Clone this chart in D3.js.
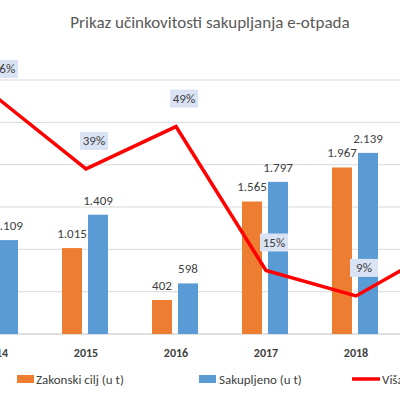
<!DOCTYPE html>
<html><head><meta charset="utf-8">
<script src="https://cdn.jsdelivr.net/npm/d3@7"></script>
<style>body{margin:0;background:#fff}</style>
</head><body><div id="chart"></div>
<script>
var years = ["2014", "2015", "2016", "2017", "2018", "2019"];
var target = [900, 1015, 402, 1565, 1967, 2300];      // Zakonski cilj (u t)
var collected = [1109, 1409, 598, 1797, 2139, 2700];  // Sakupljeno (u t)
var surplus = [56, 39, 49, 15, 9, 21];                // Višak (%)
var fmt = function(v) { return d3.format(",")(v).replace(/,/g, "."); };

var svg = d3.select("#chart").append("svg").attr("width", 400).attr("height", 400)
    .style("font-family", "Calibri, Carlito, 'Liberation Sans', sans-serif");

var plotTop = 80, plotBottom = 334;
var x = d3.scalePoint().domain(years).range([-4, 446]);
var y = d3.scaleLinear().domain([0, 3000]).range([plotBottom, plotTop]);
var y2 = d3.scaleLinear().domain([0, 60]).range([plotBottom, plotTop]);

svg.append("text").attr("x", 210).attr("y", 28).attr("text-anchor", "middle")
    .attr("font-size", 17).attr("fill", "#595959")
    .text("Prikaz učinkovitosti sakupljanja e-otpada");

// gridlines
svg.append("g").selectAll("line").data(y.ticks(6)).enter().append("line")
    .attr("x1", 0).attr("x2", 400)
    .attr("y1", function(d) { return y(d); }).attr("y2", function(d) { return y(d); })
    .attr("stroke", function(d) { return d == 0 ? "#bfbfbf" : "#d9d9d9"; });

// bars
var bw = 20;
[[target, "#ed7d31", -24], [collected, "#5b9bd5", 2]].forEach(function(s) {
  var g = svg.append("g");
  g.selectAll("rect").data(s[0]).enter().append("rect")
      .attr("x", function(d, i) { return x(years[i]) + s[2]; })
      .attr("y", function(d) { return y(d); })
      .attr("width", bw).attr("height", function(d) { return plotBottom - y(d); })
      .attr("fill", s[1]);
  g.selectAll("text").data(s[0]).enter().append("text")
      .attr("x", function(d, i) { return x(years[i]) + s[2] + bw / 2; })
      .attr("y", function(d) { return y(d) - 10; })
      .attr("text-anchor", "middle").attr("font-size", 13).attr("fill", "#404040")
      .text(fmt);
});

// line
var line = d3.line()
    .x(function(d, i) { return x(years[i]); })
    .y(function(d) { return y2(d); });
svg.append("path").datum(surplus).attr("d", line)
    .attr("fill", "none").attr("stroke", "#ff0000").attr("stroke-width", 3.5);

var lab = svg.append("g").selectAll("g").data(surplus).enter().append("g")
    .attr("transform", function(d, i) { return "translate(" + (x(years[i]) + 8) + "," + (y2(d) - 28) + ")"; });
lab.append("rect").attr("x", -14).attr("y", -9).attr("width", 28).attr("height", 18).attr("fill", "#dae3f3");
lab.append("text").attr("text-anchor", "middle").attr("dy", "0.35em")
    .attr("font-size", 13).attr("fill", "#404040").text(function(d) { return d + "%"; });

// x labels
svg.append("g").selectAll("text").data(years).enter().append("text")
    .attr("x", function(d) { return x(d); }).attr("y", 357)
    .attr("text-anchor", "middle").attr("font-size", 12).attr("font-weight", "bold")
    .attr("fill", "#404040").text(function(d) { return d; });

// legend
var leg = svg.append("g").attr("font-size", 13).attr("fill", "#404040");
leg.append("rect").attr("x", 17).attr("y", 375).attr("width", 17).attr("height", 8).attr("fill", "#ed7d31");
leg.append("text").attr("x", 36).attr("y", 384).text("Zakonski cilj (u t)");
leg.append("rect").attr("x", 199).attr("y", 375).attr("width", 17).attr("height", 8).attr("fill", "#5b9bd5");
leg.append("text").attr("x", 219).attr("y", 384).text("Sakupljeno (u t)");
leg.append("line").attr("x1", 352).attr("x2", 380).attr("y1", 379).attr("y2", 379)
    .attr("stroke", "#ff0000").attr("stroke-width", 3.5);
leg.append("text").attr("x", 382).attr("y", 384).text("Višak (%)");
</script></body></html>
